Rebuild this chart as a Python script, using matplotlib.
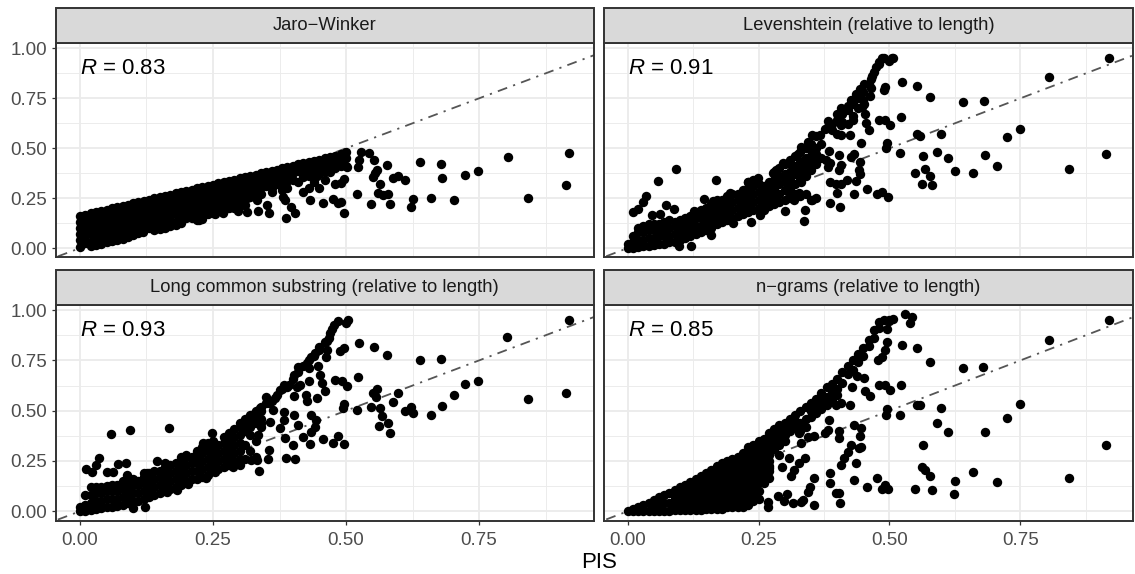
import numpy as np
import matplotlib
matplotlib.use('Agg')
import matplotlib.pyplot as plt
from matplotlib.patches import Rectangle

plt.rcParams['font.family'] = ['Liberation Sans', 'DejaVu Sans']
plt.rcParams['mathtext.fontset'] = 'custom'
plt.rcParams['mathtext.rm'] = 'Liberation Sans'
plt.rcParams['mathtext.it'] = 'Liberation Sans:italic'

# values, (PIS, similarity)
titles = ['Jaro\u2212Winker', 'Levenshtein (relative to length)',
          'Long common substring (relative to length)', 'n\u2212grams (relative to length)']
r_labels = ['0.83', '0.91', '0.93', '0.85']
x_ticks = [0, 0.25, 0.5, 0.75]
y_ticks = [0, 0.25, 0.5, 0.75, 1]

jaro_cloud = [
    (0,.16),(0,.13),(0,.10),(0,.07),(0,.04),(0,.005),
    (.02,.175),(.02,.14),(.02,.105),(.02,.07),(.02,.03),(.02,.01),
    (.04,.185),(.04,.15),(.04,.115),(.04,.08),(.04,.045),(.04,.02),
    (.06,.20),(.06,.165),(.06,.13),(.06,.095),(.06,.06),(.06,.035),
    (.08,.21),(.08,.175),(.08,.14),(.08,.105),(.08,.07),(.08,.045),
    (.10,.225),(.10,.19),(.10,.155),(.10,.12),(.10,.09),(.10,.065),
    (.12,.235),(.12,.20),(.12,.165),(.12,.13),(.12,.10),
    (.14,.25),(.14,.215),(.14,.18),(.14,.145),(.14,.11),(.14,.09),
    (.16,.26),(.16,.225),(.16,.19),(.16,.155),(.16,.115),(.16,.10),
    (.18,.275),(.18,.24),(.18,.205),(.18,.17),(.18,.13),(.18,.115),
    (.20,.285),(.20,.25),(.20,.215),(.20,.18),(.20,.15),
    (.22,.30),(.22,.265),(.22,.23),(.22,.195),(.22,.16),(.22,.14),
    (.24,.31),(.24,.275),(.24,.24),(.24,.205),(.24,.17),
    (.26,.325),(.26,.29),(.26,.255),(.26,.22),(.26,.185),
    (.28,.335),(.28,.30),(.28,.265),(.28,.23),(.28,.20),
    (.30,.35),(.30,.315),(.30,.28),(.30,.245),(.30,.21),
    (.32,.36),(.32,.325),(.32,.29),(.32,.255),
    (.34,.375),(.34,.34),(.34,.305),(.34,.27),
    (.36,.385),(.36,.35),(.36,.315),(.36,.28),
    (.38,.40),(.38,.365),(.38,.33),(.38,.29),
    (.40,.41),(.40,.375),(.40,.34),
    (.42,.425),(.42,.39),(.42,.355),
    (.44,.435),(.44,.40),(.44,.36),
    (.46,.45),(.46,.415),(.46,.38),
    (.48,.46),(.48,.43),(.48,.40),
    (.50,.48),(.50,.45),(.50,.41),
]
jaro_fill = [
    (.01,.165),(.01,.13),(.01,.095),(.01,.06),(.01,.025),
    (.03,.18),(.03,.145),(.03,.11),(.03,.075),(.03,.04),(.03,.015),
    (.05,.19),(.05,.155),(.05,.12),(.05,.085),(.05,.05),(.05,.03),
    (.07,.205),(.07,.17),(.07,.135),(.07,.10),(.07,.065),(.07,.04),
    (.09,.215),(.09,.18),(.09,.145),(.09,.11),(.09,.08),(.09,.055),
    (.11,.23),(.11,.195),(.11,.16),(.11,.125),(.11,.09),(.11,.075),
    (.13,.24),(.13,.205),(.13,.17),(.13,.135),(.13,.10),
    (.15,.255),(.15,.22),(.15,.185),(.15,.15),(.15,.115),(.15,.095),
    (.17,.265),(.17,.23),(.17,.195),(.17,.16),(.17,.125),(.17,.11),
    (.19,.28),(.19,.245),(.19,.21),(.19,.175),(.19,.14),(.19,.125),
    (.21,.29),(.21,.255),(.21,.22),(.21,.185),(.21,.15),
    (.23,.305),(.23,.27),(.23,.235),(.23,.20),(.23,.165),(.23,.145),
    (.25,.315),(.25,.28),(.25,.245),(.25,.21),(.25,.175),
    (.27,.33),(.27,.295),(.27,.26),(.27,.225),(.27,.19),
    (.29,.34),(.29,.305),(.29,.27),(.29,.235),(.29,.20),
    (.31,.355),(.31,.32),(.31,.285),(.31,.25),(.31,.215),
    (.33,.365),(.33,.33),(.33,.295),(.33,.26),
    (.35,.38),(.35,.345),(.35,.31),
    (.37,.39),(.37,.355),(.37,.32),
    (.39,.405),(.39,.37),(.39,.335),
    (.41,.42),(.41,.385),
    (.43,.43),(.43,.395),(.43,.36),
    (.45,.44),(.45,.405),(.45,.37),
    (.47,.455),(.47,.42),(.47,.39),
    (.49,.47),(.49,.44),(.49,.41),
]
jaro_scatter = [
    (.919,.477),(.913,.316),(.841,.252),(.804,.457),(.748,.385),(.723,.365),(.703,.243),
    (.681,.35),(.678,.422),(.66,.251),(.639,.432),(.625,.246),(.623,.208),(.61,.34),
    (.598,.362),(.589,.352),(.582,.221),(.577,.414),(.578,.269),(.569,.266),(.56,.277),
    (.563,.322),(.558,.39),(.554,.374),(.55,.357),(.547,.223),(.552,.439),(.543,.478),
    (.528,.482),(.524,.44),(.522,.407),(.521,.271),(.502,.407),(.496,.178),(.496,.344),
    (.491,.327),(.48,.32),(.49,.233),(.485,.224),(.476,.246),(.457,.224),(.432,.241),
    (.405,.174),(.388,.15),(.396,.208),(.386,.241),(.381,.257),(.355,.174),(.352,.216),
    (.332,.241),(.314,.249),(.335,.188),(.314,.183),(.297,.188),(.269,.174),(.253,.169),
    (.224,.141),(.118,.08),(.41,.33),(.42,.28),(.43,.30),(.44,.33),(.445,.36),(.45,.30),
    (.46,.34),(.47,.38),(.39,.30),(.375,.33),(.38,.31),(.37,.36),(.36,.30),(.35,.35),
]

lev_cloud = [
    (0,0),(0,.02),(.01,0),(.01,.03),(.01,.06),(.02,.005),(.02,.04),(.02,.08),(.02,.10),
    (.03,.01),(.03,.04),(.03,.08),(.03,.11),(.04,.01),(.04,.05),(.04,.09),(.04,.12),
    (.05,.015),(.05,.05),(.05,.09),(.05,.12),(.06,.02),(.06,.06),(.06,.10),(.06,.12),
    (.07,.02),(.07,.06),(.07,.09),(.07,.13),(.08,.03),(.08,.06),(.08,.10),(.08,.14),
    (.09,.03),(.09,.07),(.09,.11),(.09,.13),(.10,.04),(.10,.07),(.10,.10),(.10,.14),
    (.11,.05),(.11,.08),(.11,.12),(.11,.15),(.12,.06),(.12,.09),(.12,.13),(.12,.16),
    (.13,.07),(.13,.11),(.13,.15),(.13,.18),(.14,.08),(.14,.11),(.14,.15),(.14,.19),
    (.15,.09),(.15,.13),(.15,.17),(.15,.20),(.16,.10),(.16,.14),(.16,.18),(.16,.22),
    (.17,.12),(.17,.16),(.17,.20),(.17,.24),(.18,.13),(.18,.17),(.18,.21),(.18,.24),
    (.19,.14),(.19,.18),(.19,.22),(.19,.26),(.20,.15),(.20,.19),(.20,.23),(.20,.27),
    (.21,.16),(.21,.20),(.21,.24),(.21,.27),(.22,.17),(.22,.21),(.22,.25),(.22,.29),
    (.23,.18),(.23,.22),(.23,.26),(.23,.30),(.23,.33),(.24,.19),(.24,.23),(.24,.27),
    (.24,.31),(.24,.34),(.25,.20),(.25,.24),(.25,.28),(.25,.32),(.26,.19),(.26,.23),
    (.26,.27),(.26,.31),(.27,.21),(.27,.25),(.27,.29),(.27,.33),(.28,.22),(.28,.26),
    (.28,.30),(.28,.34),(.28,.38),(.29,.23),(.29,.27),(.29,.36),(.29,.40),(.30,.24),
    (.30,.37),(.30,.42),(.31,.25),(.31,.42),(.31,.38),(.32,.41),(.32,.46),(.32,.27),
    (.33,.43),(.33,.48),(.33,.26),(.34,.45),(.34,.50),(.34,.27),(.35,.46),(.35,.52),
    (.35,.24),(.36,.47),(.36,.56),(.36,.25),
    (.29,.32),(.30,.29),(.30,.33),(.31,.30),(.31,.33),(.32,.32),(.32,.37),(.33,.38),
    (.34,.40),(.35,.42),
]
lev_fill = [
    (.30,.35),(.31,.35),(.32,.39),(.33,.35),(.34,.36),(.35,.39),(.36,.42),(.37,.45),
    (.37,.52),(.36,.50),(.35,.49),(.38,.60),(.39,.62),(.40,.64),(.41,.67),(.42,.69),
    (.43,.72),(.44,.75),(.45,.78),(.46,.82),(.47,.88),(.48,.93),(.49,.95),(.40,.57),
    (.42,.62),(.43,.66),(.44,.70),(.45,.74),
]
lev_scatter = [
    (.92,.95),(.914,.473),(.842,.395),(.804,.855),(.749,.598),(.725,.556),(.705,.41),
    (.682,.465),(.68,.735),(.66,.377),(.64,.734),(.625,.387),(.611,.452),(.598,.573),
    (.591,.483),(.582,.316),(.577,.36),(.577,.759),(.568,.394),(.564,.46),(.562,.32),
    (.559,.56),(.552,.57),(.548,.377),(.552,.812),(.524,.83),(.522,.656),(.52,.477),
    (.502,.615),(.492,.643),(.481,.643),(.495,.527),(.494,.502),(.497,.257),(.485,.282),
    (.477,.27),(.457,.296),(.433,.272),(.405,.206),(.387,.228),(.40,.277),(.338,.19),
    (.337,.136),(.504,.95),(.486,.95),(.506,.95),(.5,.939),(.481,.922),(.475,.905),
    (.467,.864),(.465,.847),(.451,.822),(.444,.797),(.437,.772),(.427,.743),(.42,.714),
    (.407,.703),(.40,.673),(.383,.636),(.376,.598),(.367,.565),(.352,.565),(.345,.532),
    (.332,.507),(.325,.473),(.311,.44),(.297,.424),(.284,.39),(.277,.374),(.465,.802),
    (.462,.764),(.451,.723),(.448,.706),(.453,.669),(.431,.64),(.41,.631),(.407,.615),
    (.455,.626),(.46,.59),(.424,.568),(.407,.565),(.39,.59),(.446,.528),(.492,.809),
    (.49,.792),(.384,.487),(.404,.468),(.433,.473),(.427,.457),(.407,.415),(.403,.39),
    (.444,.429),(.441,.39),(.443,.37),(.436,.337),(.419,.34),(.407,.32),(.397,.32),
    (.386,.332),(.386,.424),(.383,.407),(.379,.44),(.358,.44),(.34,.44),(.331,.407),
    (.337,.365),(.331,.332),(.304,.287),(.328,.274),(.352,.241),(.318,.241),(.301,.188),
    (.253,.166),(.236,.133),(.201,.125),(.16,.066),(.121,.012),(.099,.012),(.093,.394),
    (.058,.336),(.168,.34),(.036,.262),(.03,.233),(.02,.194),(.011,.183),(.073,.216),
    (.088,.196),(.061,.169),(.047,.166),(.145,.244),(.126,.186),(.195,.274),(.164,.236),
    (.23,.332),(.249,.349),
]

lcs_cloud = [
    (0,0),(0,.02),(.01,0),(.01,.03),(.01,.08),(.02,.005),(.02,.04),(.02,.08),(.02,.12),
    (.03,.01),(.03,.05),(.03,.09),(.03,.12),(.04,.015),(.04,.05),(.04,.09),(.04,.12),
    (.05,.02),(.05,.06),(.05,.10),(.05,.125),(.06,.02),(.06,.06),(.06,.10),(.06,.13),
    (.07,.025),(.07,.06),(.07,.10),(.07,.13),(.08,.03),(.08,.07),(.08,.11),(.08,.15),
    (.09,.04),(.09,.08),(.09,.12),(.09,.16),(.10,.05),(.10,.09),(.10,.13),(.10,.16),
    (.11,.05),(.11,.09),(.11,.13),(.11,.15),(.12,.06),(.12,.10),(.12,.14),(.12,.17),
    (.12,.19),(.13,.07),(.13,.11),(.13,.15),(.13,.19),(.14,.08),(.14,.12),(.14,.16),
    (.14,.20),(.15,.09),(.15,.13),(.15,.17),(.15,.20),(.16,.10),(.16,.14),(.16,.18),
    (.16,.22),(.16,.24),(.17,.11),(.17,.15),(.17,.19),(.17,.23),(.18,.12),(.18,.16),
    (.18,.20),(.18,.24),(.19,.13),(.19,.17),(.19,.21),(.19,.25),(.19,.27),(.20,.15),
    (.20,.19),(.20,.23),(.20,.27),(.20,.28),(.21,.16),(.21,.20),(.21,.24),(.21,.27),
    (.22,.16),(.22,.20),(.22,.24),(.22,.28),(.22,.30),(.23,.17),(.23,.21),(.23,.25),
    (.23,.29),(.23,.32),(.24,.18),(.24,.22),(.24,.26),(.24,.30),(.24,.34),(.25,.20),
    (.25,.24),(.25,.28),(.25,.32),(.25,.35),(.26,.21),(.26,.25),(.26,.29),(.26,.33),
    (.27,.22),(.27,.26),(.27,.30),(.27,.34),(.27,.37),(.28,.23),(.28,.27),(.28,.31),
    (.28,.35),(.28,.39),(.29,.25),(.29,.29),(.29,.33),(.29,.37),(.29,.41),(.30,.26),
    (.30,.30),(.30,.34),(.30,.38),(.30,.42),(.31,.26),(.31,.33),(.31,.40),(.31,.44),
    (.32,.30),(.32,.38),(.32,.42),(.32,.46),(.33,.27),(.33,.35),(.33,.44),(.33,.48),
    (.34,.42),(.34,.50),(.34,.46),
]
lcs_fill = [
    (.30,.44),(.31,.46),(.32,.48),(.33,.50),(.34,.52),(.35,.54),(.36,.55),(.37,.58),
    (.38,.61),(.39,.62),(.40,.66),(.41,.69),(.42,.72),(.43,.75),(.44,.77),(.45,.80),
    (.46,.84),(.47,.885),
]
lcs_scatter = [
    (.919,.95),(.913,.587),(.841,.557),(.803,.864),(.748,.649),(.723,.631),(.703,.576),
    (.681,.522),(.678,.757),(.66,.478),(.639,.754),(.625,.488),(.623,.516),(.61,.499),
    (.598,.586),(.589,.544),(.582,.391),(.577,.775),(.578,.438),(.567,.476),(.563,.512),
    (.562,.424),(.558,.609),(.557,.567),(.55,.587),(.547,.516),(.552,.817),(.524,.837),
    (.522,.666),(.521,.501),(.502,.621),(.496,.334),(.496,.532),(.494,.512),(.492,.646),
    (.48,.654),(.485,.374),(.476,.341),(.457,.361),(.432,.334),(.405,.258),(.388,.266),
    (.496,.812),(.489,.795),(.504,.953),(.499,.937),(.485,.948),(.478,.928),(.473,.907),
    (.468,.862),(.465,.845),(.45,.817),(.465,.804),(.441,.787),(.434,.767),(.463,.765),
    (.427,.737),(.41,.717),(.403,.679),(.431,.712),(.448,.72),(.451,.679),(.431,.646),
    (.455,.637),(.46,.596),(.414,.629),(.407,.617),(.383,.629),(.376,.604),(.393,.629),
    (.403,.574),(.424,.579),(.427,.546),(.446,.562),(.349,.567),(.366,.562),(.355,.537),
    (.362,.504),(.338,.512),(.328,.488),(.434,.479),(.444,.454),(.441,.421),(.434,.396),
    (.42,.371),(.41,.429),(.403,.479),(.384,.491),(.383,.454),(.376,.413),(.386,.363),
    (.40,.329),(.357,.443),(.34,.441),(.335,.379),(.355,.304),(.354,.258),(.336,.201),
    (.332,.255),(.253,.193),(.236,.163),(.203,.135),(.249,.391),(.168,.416),(.094,.403),
    (.058,.386),(.145,.248),(.036,.263),(.031,.23),(.087,.238),(.072,.233),(.012,.208),
    (.022,.193),(.05,.196),(.063,.193),(.089,.18),(.126,.188),(.122,.022),(.099,.018),
    (.183,.105),(.163,.098),(.301,.23),(.287,.221),(.321,.255),(.231,.341),
]

ngram_cloud = [
    (0,0),(.01,0),(.01,.01),(.02,0),(.02,.02),(.03,0),(.03,.03),(.04,0),(.04,.04),
    (.05,0),(.05,.03),(.05,.055),(.06,0),(.06,.035),(.06,.07),(.07,0),(.07,.04),(.07,.08),
    (.08,0),(.08,.04),(.08,.09),(.09,.005),(.09,.04),(.09,.075),(.09,.105),
    (.10,.005),(.10,.04),(.10,.08),(.10,.12),(.11,.005),(.11,.04),(.11,.08),(.11,.13),
    (.12,.005),(.12,.05),(.12,.09),(.12,.145),(.13,.005),(.13,.05),(.13,.10),(.13,.16),
    (.14,.005),(.14,.05),(.14,.10),(.14,.175),(.15,.01),(.15,.05),(.15,.10),(.15,.15),(.15,.19),
    (.16,.01),(.16,.05),(.16,.10),(.16,.15),(.16,.205),(.17,.01),(.17,.05),(.17,.10),(.17,.15),(.17,.225),
    (.18,.01),(.18,.05),(.18,.10),(.18,.15),(.18,.20),(.18,.24),
    (.19,.02),(.19,.06),(.19,.10),(.19,.15),(.19,.20),(.19,.25),
    (.20,.02),(.20,.06),(.20,.10),(.20,.15),(.20,.20),(.20,.26),
    (.21,.02),(.21,.06),(.21,.11),(.21,.16),(.21,.21),(.21,.27),
    (.22,.02),(.22,.06),(.22,.11),(.22,.16),(.22,.21),(.22,.26),(.22,.29),
    (.23,.03),(.23,.07),(.23,.12),(.23,.17),(.23,.22),(.23,.27),(.23,.32),
    (.24,.05),(.24,.10),(.24,.15),(.24,.20),(.24,.25),(.24,.30),(.24,.33),
    (.25,.06),(.25,.14),(.25,.19),(.25,.24),(.25,.29),(.25,.35),
    (.26,.14),(.26,.19),(.26,.24),(.26,.30),(.26,.36),
    (.27,.20),(.27,.25),(.27,.32),(.27,.36),(.27,.39),(.28,.38),(.28,.41),(.29,.36),(.29,.43),
    (.30,.38),(.30,.44),(.31,.40),(.31,.46),(.32,.42),(.32,.48),(.33,.44),(.33,.50),
    (.34,.46),(.34,.52),(.35,.50),(.35,.54),(.36,.52),(.36,.56),(.37,.55),(.37,.59),
    (.38,.57),(.38,.62),(.39,.60),(.39,.635),(.40,.61),(.40,.66),(.41,.64),(.41,.69),
    (.42,.68),(.42,.72),(.43,.70),(.43,.75),(.44,.74),(.44,.78),(.45,.77),(.45,.81),
    (.46,.82),(.46,.85),(.47,.86),(.47,.90),(.48,.91),(.48,.94),(.49,.95),(.50,.95),(.506,.955),
]
ngram_fill = [
    (.09,.02),(.09,.06),(.10,.025),(.10,.06),(.10,.10),(.11,.025),(.11,.06),(.11,.105),
    (.12,.03),(.12,.07),(.12,.115),(.13,.03),(.13,.075),(.13,.125),
    (.14,.03),(.14,.075),(.14,.13),(.14,.15),(.15,.03),(.15,.075),(.15,.125),(.15,.17),
    (.16,.03),(.16,.075),(.16,.125),(.16,.175),(.17,.03),(.17,.075),(.17,.125),(.17,.175),(.17,.20),
    (.18,.03),(.18,.075),(.18,.125),(.18,.175),(.18,.22),(.19,.04),(.19,.08),(.19,.125),(.19,.175),(.19,.225),
    (.20,.04),(.20,.08),(.20,.125),(.20,.175),(.20,.23),(.21,.04),(.21,.085),(.21,.135),(.21,.185),(.21,.24),
    (.22,.04),(.22,.085),(.22,.135),(.22,.185),(.22,.235),(.23,.05),(.23,.095),(.23,.145),(.23,.195),(.23,.245),(.23,.295),
    (.24,.075),(.24,.125),(.24,.175),(.24,.225),(.24,.275),(.25,.10),(.25,.165),(.25,.215),(.25,.265),(.25,.32),
    (.26,.165),(.26,.215),(.26,.27),(.26,.33),(.27,.225),(.27,.28),(.27,.34),(.28,.31),(.28,.34),
    (.29,.33),(.29,.39),(.30,.35),(.30,.41),(.31,.43),(.32,.45),(.33,.40),(.34,.42),(.35,.47),
    (.36,.49),(.37,.51),(.38,.53),(.39,.56),(.40,.58),
]
ngram_scatter = [
    (.92,.95),(.914,.328),(.842,.166),(.804,.85),(.749,.532),(.725,.463),(.705,.146),
    (.682,.394),(.679,.715),(.66,.196),(.64,.714),(.626,.15),(.624,.087),(.611,.393),
    (.598,.514),(.59,.438),(.582,.105),(.577,.175),(.577,.74),(.568,.205),(.562,.221),
    (.564,.328),(.559,.529),(.552,.529),(.548,.11),(.552,.812),(.524,.827),(.529,.982),
    (.544,.967),(.54,.937),(.522,.627),(.52,.478),(.502,.601),(.492,.627),(.481,.629),
    (.495,.507),(.493,.479),(.497,.113),(.492,.13),(.485,.11),(.477,.165),(.457,.121),
    (.433,.153),(.405,.04),(.398,.092),(.403,.092),(.386,.138),(.387,.191),(.355,.032),
    (.355,.163),(.349,.121),(.345,.097),(.335,.055),(.331,.047),(.316,.043),(.299,.052),
    (.304,.085),(.287,.075),(.268,.047),(.269,.022),(.436,.238),(.407,.23),(.414,.263),
    (.42,.293),(.427,.329),(.441,.313),(.445,.321),(.404,.363),(.404,.401),(.385,.454),
    (.383,.404),(.376,.388),(.355,.376),(.345,.371),(.444,.376),(.445,.416),(.433,.429),
    (.424,.529),(.407,.537),(.398,.529),(.462,.574),(.453,.596),(.429,.617),(.451,.662),
    (.438,.674),(.479,.754),(.486,.767),(.492,.804),(.496,.84),(.496,.907),(.499,.945),
    (.338,.263),(.331,.338),(.328,.238),(.318,.205),(.312,.175),(.309,.263),(.29,.28),
    (.294,.221),(.27,.213),(.27,.163),(.328,.388),
]

panel_points = [jaro_cloud + jaro_fill + jaro_scatter, lev_cloud + lev_fill + lev_scatter,
                lcs_cloud + lcs_fill + lcs_scatter, ngram_cloud + ngram_fill + ngram_scatter]

W, H = 1135, 574
fig = plt.figure(figsize=(W / 100, H / 100), dpi=100)

# panel boxes in pixels: left, right, strip top, panel top, panel bottom
lefts = [56, 604, 56, 604]
rights = [593.5, 1133, 593.5, 1133]
strip_tops = [7.5, 7.5, 269.5, 269.5]
panel_tops = [43, 43, 304.7, 304.7]
panel_bots = [257.5, 257.5, 520.7, 520.7]

for i in range(4):
    l, r, st, pt, pb = lefts[i], rights[i], strip_tops[i], panel_tops[i], panel_bots[i]
    ax = fig.add_axes([l / W, 1 - pb / H, (r - l) / W, (pb - pt) / H])
    ax.set_xlim(-0.045, 0.965)
    ax.set_ylim(-0.047, 1.027)
    ax.set_xticks(x_ticks)
    ax.set_yticks(y_ticks)
    ax.set_xticks([0.125, 0.375, 0.625, 0.875], minor=True)
    ax.set_yticks([0.125, 0.375, 0.625, 0.875], minor=True)
    ax.grid(which='major', color='#EBEBEB', lw=1.3)
    ax.grid(which='minor', color='#EBEBEB', lw=0.65)
    ax.set_axisbelow(True)
    ax.tick_params(which='minor', length=0)
    ax.tick_params(which='major', length=3, width=0.9, color='#333333',
                   labelcolor='#4D4D4D', labelsize=13.5, pad=3.5)
    ax.tick_params(axis='x', labelbottom=i >= 2, bottom=i >= 2, pad=5)
    ax.tick_params(axis='y', labelleft=i % 2 == 0, left=i % 2 == 0)
    ax.set_xticklabels(['0.00', '0.25', '0.50', '0.75'] if i >= 2 else [])
    ax.set_yticklabels(['0.00', '0.25', '0.50', '0.75', '1.00'] if i % 2 == 0 else [])
    for s in ax.spines.values():
        s.set_color('#333333')
        s.set_linewidth(1.4)
        s.set_zorder(6)

    ax.plot([-0.1, 1.1], [-0.1, 1.1], color='#555555', lw=1.3,
            linestyle=(0, (1.2, 3.5, 5.5, 3.5)), zorder=2)
    arr = np.array(panel_points[i])
    ax.scatter(arr[:, 0], arr[:, 1], s=46, color='black', linewidths=0, zorder=3)

    ax.text(0.0, 0.9, '$R$ = ' + r_labels[i], fontsize=16, color='black', ha='left', va='center', zorder=5)

    # strip on top of the panel
    fig.add_artist(Rectangle((l / W, 1 - pt / H), (r - l) / W, (pt - st) / H,
                             transform=fig.transFigure, facecolor='#D9D9D9',
                             edgecolor='#333333', lw=1.4))
    fig.text((l + r) / 2 / W, 1 - (st + pt) / 2 / H, titles[i], fontsize=13.2,
             color='#1A1A1A', ha='center', va='center')

fig.text(599 / W, 1 - 562 / H, 'PIS', fontsize=16, color='black', ha='center', va='center')

fig.savefig('out.png', dpi=100)
